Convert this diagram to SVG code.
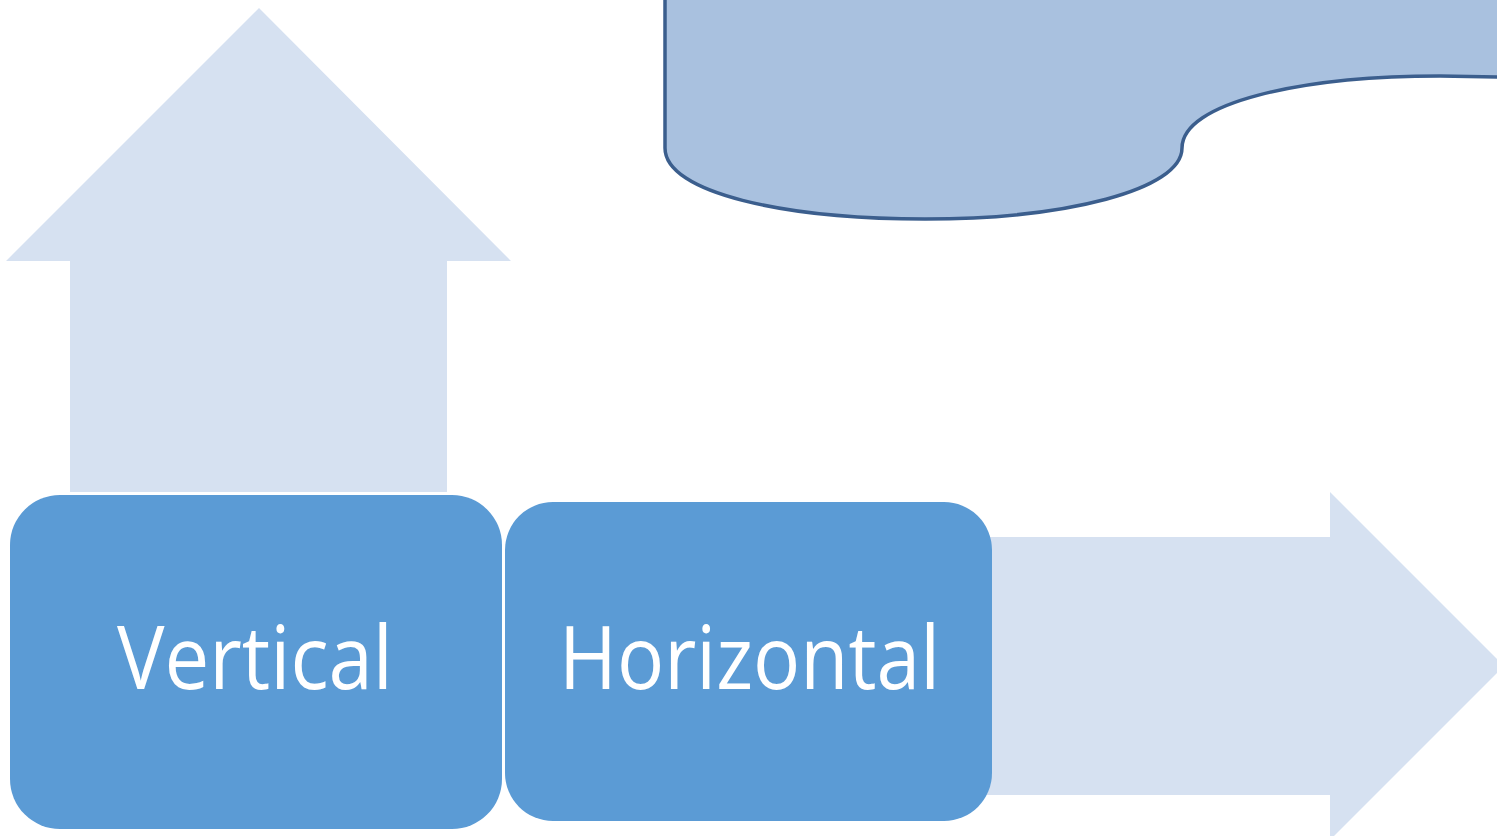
<svg xmlns="http://www.w3.org/2000/svg" width="1497" height="836" viewBox="0 0 1497 836">
<style>
.arrow{fill:#d6e1f1}
.box{fill:#5b9bd5}
.lbl{fill:#ffffff;font-family:"Open Sans","Liberation Sans",sans-serif;font-size:88px}
.doc{fill:#a9c1df;stroke:#3b5e8d;stroke-width:3.5}
</style>
<rect width="1497" height="836" fill="#ffffff"/>
<g id="document">
<path class="doc" d="M665,-8 L665,148 C665,193 785,219 925,219 C1065,219 1182,190 1182,148 C1182,103 1300,76 1440,76 L1505,77 L1505,-8 Z"/>
</g>
<g id="connectors">
<polygon id="up-arrow" class="arrow" points="259,8 511,261 447,261 447,492 70,492 70,261 6,261"/>
<polygon id="right-arrow" class="arrow" points="985,537 1330,537 1330,492 1504,666 1330,840 1330,795 985,795"/>
</g>
<g id="vertical">
<rect class="box" x="10" y="495" width="492" height="334" rx="50" ry="50"/>
<text class="lbl" x="117" y="689" textLength="276" lengthAdjust="spacingAndGlyphs">Vertical</text>
</g>
<g id="horizontal">
<rect class="box" x="505" y="502" width="487" height="319" rx="48" ry="48"/>
<text class="lbl" x="559" y="689" textLength="381" lengthAdjust="spacingAndGlyphs">Horizontal</text>
</g>
</svg>
